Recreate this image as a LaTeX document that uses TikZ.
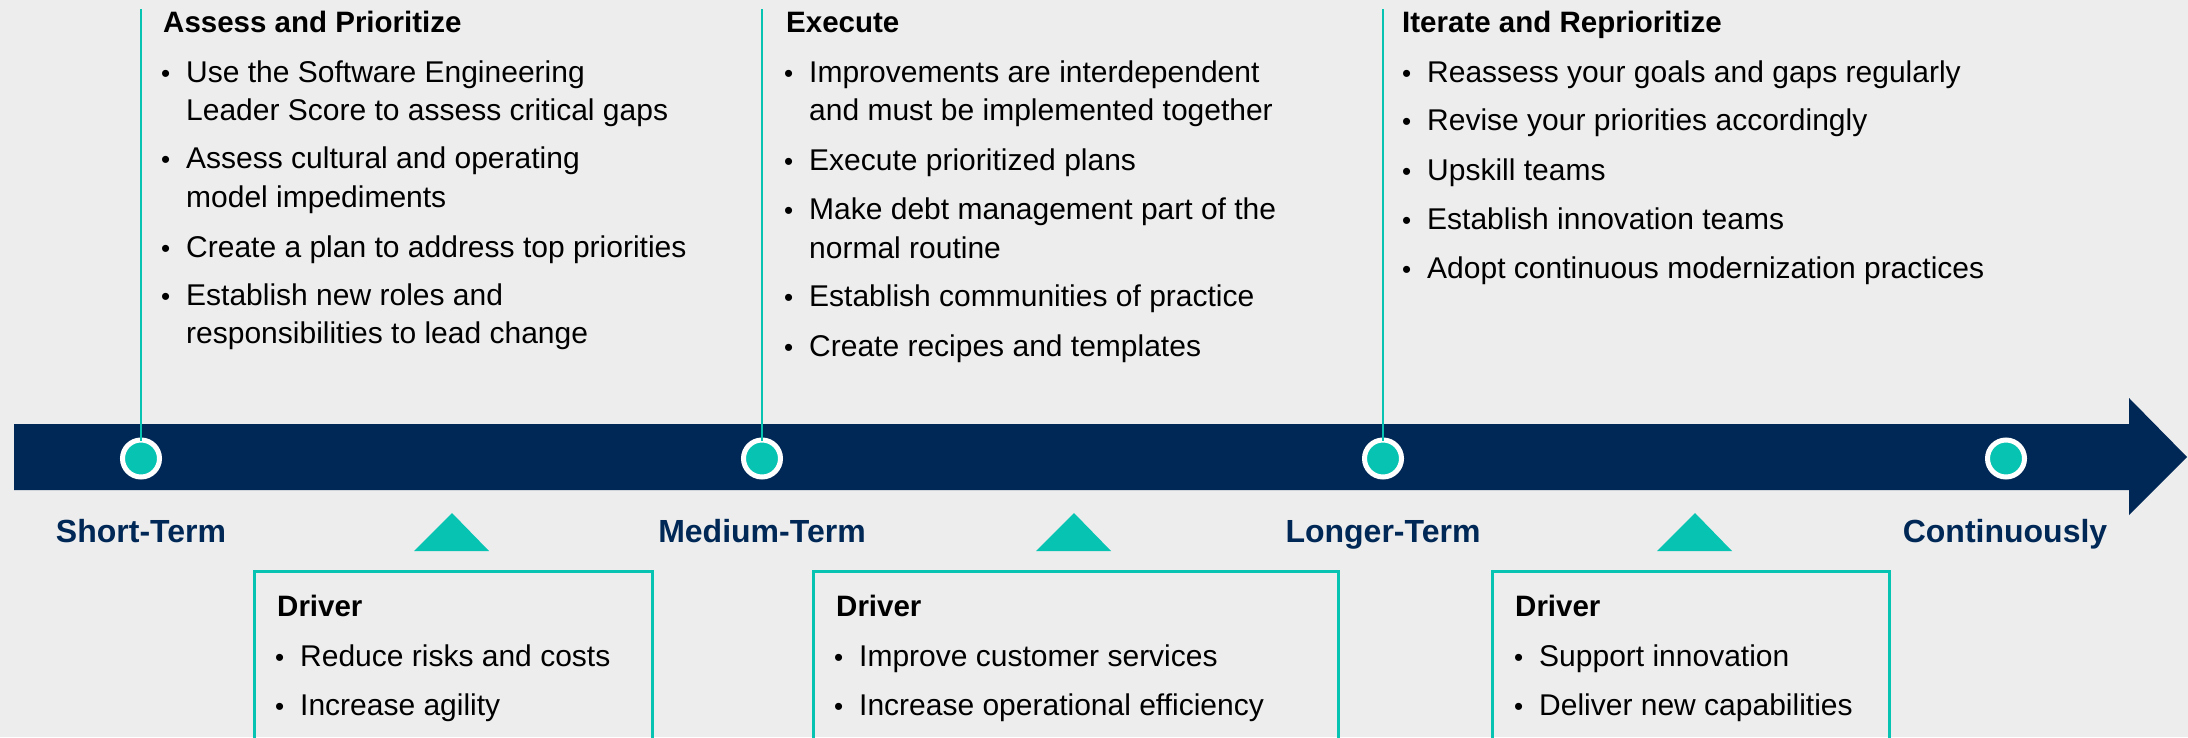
\documentclass[tikz,border=0pt]{standalone}
\usepackage{fontspec}
\setmainfont{Liberation Sans}
\definecolor{navy}{HTML}{002856}
\definecolor{teal}{HTML}{07C4B2}
\definecolor{bg}{HTML}{EDEDED}
\newcommand\bul{\llap{\fontsize{26}{26}\selectfont\textbullet\hspace{16pt}}}
\tikzset{
  hd/.style={anchor=base west, inner sep=0pt, font=\fontsize{29.5}{30}\selectfont\bfseries, text=black},
  bl/.style={anchor=base west, inner sep=0pt, font=\fontsize{30}{30}\selectfont, text=black},
  term/.style={anchor=base, inner sep=0pt, font=\fontsize{32}{32}\selectfont\bfseries, text=navy},
  dot/.style={circle, fill=teal, draw=white, line width=5pt, minimum size=37pt, inner sep=0pt},
  stem/.style={draw=teal, line width=2.4pt, shorten >=-3pt},
  tri/.style={fill=teal},
  drvbox/.style={draw=teal, line width=2.5pt, anchor=north west, inner sep=0pt, minimum height=200pt}
}
\begin{document}
\begin{tikzpicture}[x=1pt, y=-1pt]
\clip (0,0) rectangle (2188,737);
\fill[bg] (0,0) rectangle (2188,737);
% timeline arrow
\fill[navy] (14,424) -- (2129,424) -- (2129,398) -- (2187,457) -- (2129,515) -- (2129,490) -- (14,490) -- cycle;
% milestones
\node[dot] (c1) at (141,458.5) {};
\node[dot] (c2) at (762,458.5) {};
\node[dot] (c3) at (1383,458.5) {};
\node[dot] (c4) at (2006,458.5) {};
\coordinate (t1) at (141,9);
\coordinate (t2) at (762,9);
\coordinate (t3) at (1383,9);
\draw[stem] (t1) -- (c1);
\draw[stem] (t2) -- (c2);
\draw[stem] (t3) -- (c3);
% terms
\node[term] (l1) at (141,542) {Short-Term};
\node[term] (l2) at (762,542) {Medium-Term};
\node[term] (l3) at (1383,542) {Longer-Term};
\node[term] (l4) at (2005,542) {Continuously};
% triangles
\fill[tri] (414,551) -- (452,513) -- (489,551) -- cycle;
\fill[tri] (1036,551) -- (1074,513) -- (1111,551) -- cycle;
\fill[tri] (1657,551) -- (1695,513) -- (1732,551) -- cycle;
% column 1
\node[hd] (h1) at (163,32) {Assess and Prioritize};
\node[bl] (a11) at (186,82) {\bul Use the Software Engineering};
\node[bl] (a12) at (186,120) {Leader Score to assess critical gaps};
\node[bl] (a21) at (186,168) {\bul Assess cultural and operating};
\node[bl] (a22) at (186,207) {model impediments};
\node[bl] (a31) at (186,257) {\bul Create a plan to address top priorities};
\node[bl] (a41) at (186,305) {\bul Establish new roles and};
\node[bl] (a42) at (186,343) {responsibilities to lead change};
% column 2
\node[hd] (h2) at (786,32) {Execute};
\node[bl] (b11) at (809,82) {\bul Improvements are interdependent};
\node[bl] (b12) at (809,120) {and must be implemented together};
\node[bl] (b21) at (809,170) {\bul Execute prioritized plans};
\node[bl] (b31) at (809,219) {\bul Make debt management part of the};
\node[bl] (b32) at (809,258) {normal routine};
\node[bl] (b41) at (809,306) {\bul Establish communities of practice};
\node[bl] (b51) at (809,356) {\bul Create recipes and templates};
% column 3
\node[hd] (h3) at (1402,32) {Iterate and Reprioritize};
\node[bl] (d11) at (1427,82) {\bul Reassess your goals and gaps regularly};
\node[bl] (d21) at (1427,130) {\bul Revise your priorities accordingly};
\node[bl] (d31) at (1427,180) {\bul Upskill teams};
\node[bl] (d41) at (1427,229) {\bul Establish innovation teams};
\node[bl] (d51) at (1427,278) {\bul Adopt continuous modernization practices};
% driver boxes
\node[drvbox, minimum width=398pt] (box1) at (253,570) {};
\node[drvbox, minimum width=525pt] (box2) at (812,570) {};
\node[drvbox, minimum width=397pt] (box3) at (1491,570) {};
\node[hd] (dh1) at (277,616) {Driver};
\node[bl] (e11) at (300,666) {\bul Reduce risks and costs};
\node[bl] (e12) at (300,715) {\bul Increase agility};
\node[hd] (dh2) at (836,616) {Driver};
\node[bl] (e21) at (859,666) {\bul Improve customer services};
\node[bl] (e22) at (859,715) {\bul Increase operational efficiency};
\node[hd] (dh3) at (1515,616) {Driver};
\node[bl] (e31) at (1539,666) {\bul Support innovation};
\node[bl] (e32) at (1539,715) {\bul Deliver new capabilities};
\end{tikzpicture}
\end{document}
